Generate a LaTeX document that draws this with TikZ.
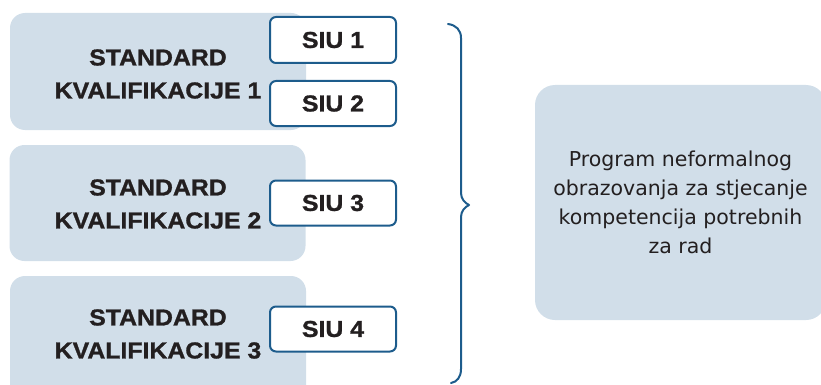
\documentclass[tikz,border=0pt]{standalone}
\usepackage{fontspec}
\setmainfont{DejaVu Sans}
\newfontfamily\boldsans[FakeStretch=1.08,BoldFeatures={FakeBold=1.2}]{Liberation Sans}
\definecolor{boxfill}{HTML}{D1DEE9}
\definecolor{siublue}{HTML}{1D5C8C}
\definecolor{ink}{HTML}{231F20}
\begin{document}
\begin{tikzpicture}[x=1pt,y=-1pt,
  stdbox/.style={fill=boxfill,draw=none,rounded corners=15pt,minimum width=296pt,inner sep=0pt},
  stdtext/.style={text=ink,align=center,font=\boldsans\bfseries\fontsize{23}{33}\selectfont,inner sep=0pt},
  siubox/.style={fill=white,draw=siublue,line width=2pt,rounded corners=6pt,minimum width=126pt,minimum height=45pt,inner sep=0pt,text=ink,font=\boldsans\bfseries\fontsize{23}{26}\selectfont},
  prog/.style={fill=boxfill,draw=none,rounded corners=20pt,minimum width=291pt,minimum height=235pt,inner sep=0pt,text=ink,align=center,font=\fontsize{20.5}{29}\selectfont},
  bracestyle/.style={draw=siublue,line width=2pt,line cap=round,line join=round}]
\useasboundingbox (0,0) rectangle (821,385);
\clip (0,0) rectangle (821,385);
% standard boxes
\node[stdbox,minimum height=117pt] (s1) at (158,71.5) {};
\node[stdbox,minimum height=116pt] (s2) at (157.5,203) {};
\node[stdbox,minimum height=140pt] (s3) at (158,346) {};
\node[stdtext] (t1) at (158,74) {STANDARD\\KVALIFIKACIJE 1};
\node[stdtext] (t2) at (158,204) {STANDARD\\KVALIFIKACIJE 2};
\node[stdtext] (t3) at (158,334) {STANDARD\\KVALIFIKACIJE 3};
% SIU boxes
\node[siubox,minimum height=46pt] (u1) at (333,40) {SIU 1};
\node[siubox] (u2) at (333,103.5) {SIU 2};
\node[siubox] (u3) at (333,203) {SIU 3};
\node[siubox] (u4) at (333,329) {SIU 4};
% right box
\node[prog] (p) at (680.5,202.5) {Program neformalnog\\obrazovanja za stjecanje\\kompetencija potrebnih\\za rad};
% brace
\coordinate (btop) at (448,24);
\coordinate (bbot) at (451,383);
\coordinate (btip) at (469,205);
\draw[bracestyle] (btop) .. controls (456,25) and (461,30) .. (461,38)
  -- (461,193) .. controls (461,199) and (465,203) .. (btip)
  .. controls (465,207) and (461,211) .. (461,217)
  -- (461,369) .. controls (461,377) and (457,382) .. (bbot);
\end{tikzpicture}
\end{document}
